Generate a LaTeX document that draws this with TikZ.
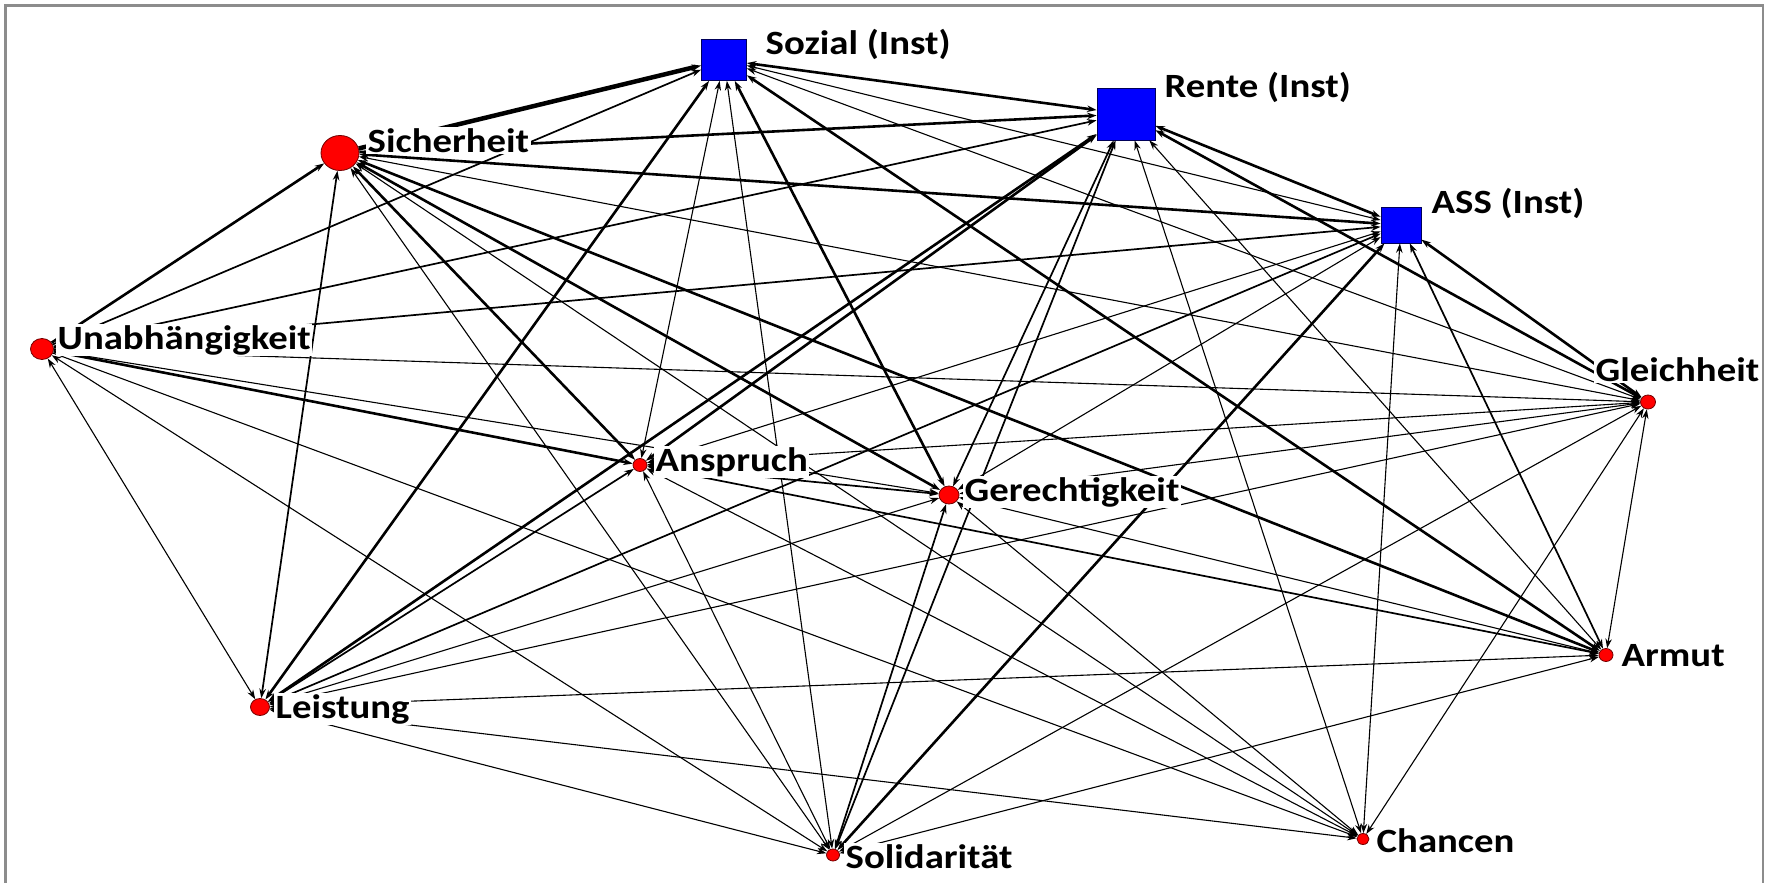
\documentclass[tikz,border=0pt]{standalone}
\usepackage{fontspec}
\newfontfamily\labfont[FakeStretch=1.14]{Carlito}
\usetikzlibrary{arrows.meta,shapes.geometric}
\begin{document}
\begin{tikzpicture}[x=1pt,y=-1pt,
  >={Stealth[length=9.5pt,width=6.5pt]},
  rdot/.style={ellipse,draw=red!45!black,line width=0.8pt,fill=red,inner sep=0pt},
  bsq/.style={rectangle,draw=blue!35!black,line width=0.8pt,fill=blue,inner sep=0pt},
  lab/.style={anchor=base west,fill=white,inner sep=1.5pt,text=black,
    font=\labfont\bfseries\fontsize{34pt}{40pt}\selectfont},
  wa/.style={draw=black,line width=1.1pt},
  wb/.style={draw=black,line width=1.7pt},
  wc/.style={draw=black,line width=2.6pt},
  wd/.style={draw=black,line width=4.5pt},
  frame/.style={draw=black!45,line width=2.5pt}]
\useasboundingbox (0,0) rectangle (1770,883);
\fill[white] (0,0) rectangle (1770,883);
\draw[frame] (5.5,883) -- (5.5,5.5) -- (1763,5.5) -- (1763,883);

% nodes
\node[bsq,minimum width=45pt,minimum height=41pt] (soz) at (724,60) {};
\node[bsq,minimum width=58pt,minimum height=52pt] (ren) at (1126,114) {};
\node[bsq,minimum width=40pt,minimum height=36pt] (ass) at (1401,225) {};
\node[rdot,minimum width=38pt,minimum height=35pt] (sich) at (340,153) {};
\node[rdot,minimum width=23pt,minimum height=21pt] (unab) at (42,349) {};
\node[rdot,minimum width=15pt,minimum height=14pt] (gleich) at (1648,402) {};
\node[rdot,minimum width=14pt,minimum height=13pt] (ansp) at (640,465) {};
\node[rdot,minimum width=20pt,minimum height=18pt] (ger) at (949,495) {};
\node[rdot,minimum width=14pt,minimum height=13pt] (armut) at (1606,655) {};
\node[rdot,minimum width=19pt,minimum height=17pt] (leist) at (260,707) {};
\node[rdot,minimum width=13pt,minimum height=12pt] (solid) at (833,855) {};
\node[rdot,minimum width=12pt,minimum height=11pt] (chanc) at (1363,839) {};

% edges: Sicherheit
\draw[wd,->] (sich) -- (soz);
\draw[wc,->] (sich) -- (ren);
\draw[wc,<->] (sich) -- (ass);
\draw[wc,->] (unab) -- (sich);
\draw[wb,<->] (leist) -- (sich);
\draw[wc,<->] (sich) -- (ansp);
\draw[wc,<->] (sich) -- (ger);
\draw[wc,<->] (sich) -- (armut);
\draw[wa,<->] (sich) -- (gleich);
\draw[wa,<->] (sich) -- (solid);
\draw[wa,<->] (sich) -- (chanc);
% Sozial
\draw[wc,<->] (soz) -- (ren);
\draw[wa,<->] (soz) -- (ass);
\draw[wb,->] (unab) -- (soz);
\draw[wc,<->] (leist) -- (soz);
\draw[wa,<->] (ansp) -- (soz);
\draw[wc,<->] (soz) -- (ger);
\draw[wa,<->] (soz) -- (gleich);
\draw[wc,<->] (soz) -- (armut);
\draw[wa,<->] (solid) -- (soz);
% Rente
\draw[wc,<->] (ren) -- (ass);
\draw[wb,->] (unab) -- (ren);
\draw[wc,<->] (ren) -- (leist);
\draw[wc,<->] (ansp) -- (ren);
\draw[wb,<->] (ren) -- (ger);
\draw[wc,<->] (ren) -- (gleich);
\draw[wa,<->] (ren) -- (armut);
\draw[wb,<->] (ren) -- (solid);
\draw[wa,<->] (ren) -- (chanc);
% ASS
\draw[wb,->] (unab) -- (ass);
\draw[wb,<->] (leist) -- (ass);
\draw[wa,<->] (ansp) -- (ass);
\draw[wa,<->] (ger) -- (ass);
\draw[wc,<->] (gleich) -- (ass);
\draw[wb,<->] (armut) -- (ass);
\draw[wc,<->] (solid) -- (ass);
\draw[wa,<->] (chanc) -- (ass);
% Unabhaengigkeit
\draw[wa,->] (unab) -- (gleich);
\draw[wc,->] (unab) -- (ansp);
\draw[wa,->] (unab) -- (ger);
\draw[wa,<->] (unab) -- (leist);
\draw[wa,<->] (unab) -- (solid);
\draw[wa,->] (unab) -- (chanc);
% Gleichheit
\draw[wa,<->] (ansp) -- (gleich);
\draw[wa,<->] (ger) -- (gleich);
\draw[wa,<->] (leist) -- (gleich);
\draw[wa,<->] (solid) -- (gleich);
\draw[wa,<->] (chanc) -- (gleich);
\draw[wa,<->] (armut) -- (gleich);
% Anspruch
\draw[wb,<->] (ansp) -- (ger);
\draw[wb,<->] (ansp) -- (armut);
\draw[wb,<->] (leist) -- (ansp);
\draw[wa,<->] (solid) -- (ansp);
\draw[wa,<->] (ansp) -- (chanc);
% Gerechtigkeit
\draw[wa,<->] (ger) -- (armut);
\draw[wa,<->] (leist) -- (ger);
\draw[wb,<->] (solid) -- (ger);
\draw[wa,<->] (ger) -- (chanc);
% rest
\draw[wa,<->] (leist) -- (armut);
\draw[wa,<->] (solid) -- (armut);
\draw[wa,<->] (leist) -- (solid);
\draw[wa,<->] (leist) -- (chanc);

% labels
\node[lab] (sichL) at (366,152) {Sicherheit};
\node[lab] (sozL) at (764,55) {Sozial (Inst)};
\node[lab] (renL) at (1163,97) {Rente (Inst)};
\node[lab] (assL) at (1430,213) {ASS (Inst)};
\node[lab] (unabL) at (56,349) {Unabhängigkeit};
\node[lab] (anspL) at (654,471) {Anspruch};
\node[lab] (gerL) at (963,501) {Gerechtigkeit};
\node[lab] (gleichL) at (1594,381) {Gleichheit};
\node[lab] (leistL) at (274,718) {Leistung};
\node[lab] (solidL) at (844,868) {Solidarität};
\node[lab] (armutL) at (1620,666) {Armut};
\node[lab] (chancL) at (1375,852) {Chancen};
\end{tikzpicture}
\end{document}
